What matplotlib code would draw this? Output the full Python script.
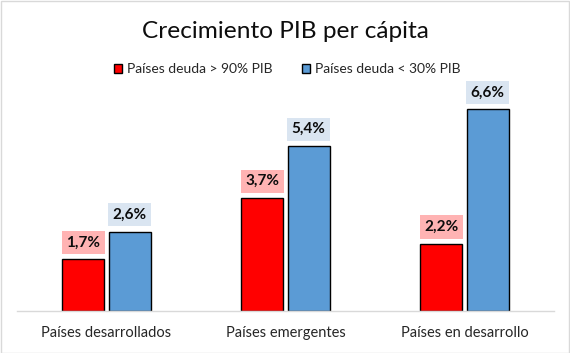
import matplotlib.pyplot as plt
import numpy as np
from matplotlib.patches import Rectangle

categorias = ['Países desarrollados', 'Países emergentes', 'Países en desarrollo']
deuda_alta = [1.7, 3.7, 2.2]
deuda_baja = [2.6, 5.4, 6.6]
series = ['Países deuda > 90% PIB', 'Países deuda < 30% PIB']

plt.rcParams['font.family'] = ['Lato', 'DejaVu Sans']

W, H = 570, 353
fig = plt.figure(figsize=(W / 100, H / 100), dpi=100)

# plot area in pixels
x0, x1 = 17, 554
y_base, y_top = 311, 97
ax = fig.add_axes([x0 / W, 1 - y_base / H, (x1 - x0) / W, (y_base - y_top) / H])

x = np.arange(len(categorias))
ancho = 0.234
off = 0.129
b1 = ax.bar(x - off, deuda_alta, ancho, color='#FF0000', edgecolor='black', linewidth=1, label=series[0])
b2 = ax.bar(x + off, deuda_baja, ancho, color='#5B9BD5', edgecolor='black', linewidth=1, label=series[1])

ax.set_xlim(-0.5, 2.5)
ax.set_ylim(0, 7)
ax.set_yticks([])
ax.set_xticks(x)
ax.set_xticklabels(categorias, fontsize=10.5, color='#262626')
ax.tick_params(axis='x', length=0, pad=11)
for s in ['top', 'left', 'right']:
    ax.spines[s].set_visible(False)
ax.spines['bottom'].set_color('#D9D9D9')
ax.spines['bottom'].set_linewidth(1)

def etiquetas(barras, valores, fondo):
    for b, v in zip(barras, valores):
        ax.annotate(f'{v:.1f}%'.replace('.', ','),
                    (b.get_x() + b.get_width() / 2, v),
                    xytext=(0, 7), textcoords='offset points',
                    ha='center', va='bottom', fontsize=11, fontweight='bold', color='#0D0D0D',
                    bbox=dict(boxstyle='square,pad=0.3', fc=fondo, ec='none'))

etiquetas(b1, deuda_alta, '#FFB3B3')
etiquetas(b2, deuda_baja, '#DAE5F1')

fig.text(0.5, 1 - 31 / H, 'Crecimiento PIB per cápita', ha='center', va='center', fontsize=17.6, color='#0D0D0D')

leg = fig.legend(handles=[b1, b2], labels=series, loc='center', bbox_to_anchor=(287 / W, 1 - 69 / H),
                 ncol=2, frameon=False, fontsize=10, handlelength=0.6, handleheight=0.6,
                 handletextpad=0.35, columnspacing=2.1)
for t in leg.get_texts():
    t.set_color('#262626')

fig.add_artist(Rectangle((0.5 / W, 0.5 / H), 1 - 1.5 / W, 1 - 1.5 / H, transform=fig.transFigure,
                         fill=False, ec='#D9D9D9', lw=1))

fig.savefig('out.png', dpi=100)
